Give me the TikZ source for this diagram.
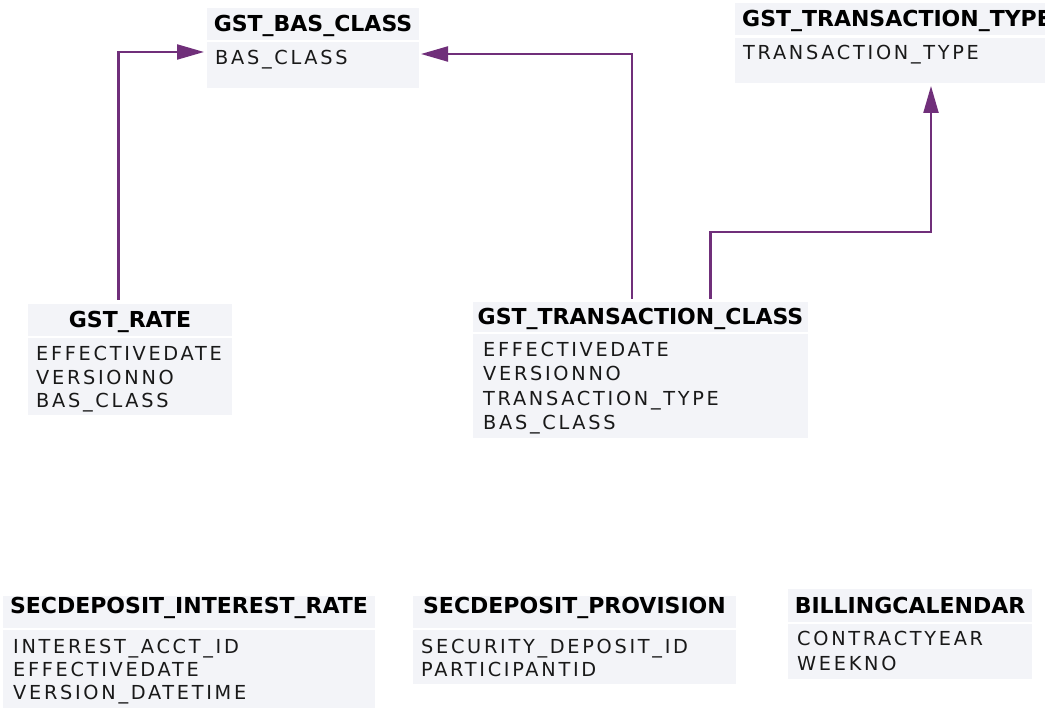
\documentclass[tikz,border=0pt]{standalone}
\usepackage{fontspec}
\setmainfont{DejaVu Sans}
\newfontfamily\bodyfont{DejaVu Sans}[LetterSpace=14]
\usetikzlibrary{arrows.meta}
\definecolor{boxfill}{RGB}{243,244,248}
\definecolor{linkcol}{RGB}{112,47,122}
\tikzset{
  boxbase/.style={draw=none, fill=boxfill, inner sep=0pt, outer sep=0pt, anchor=north west},
  hdrtext/.style={inner sep=0pt, anchor=base, font=\fontsize{22}{24}\selectfont\bfseries},
  hdrtextl/.style={hdrtext, anchor=base west},
  bodytext/.style={inner sep=0pt, anchor=base west, font=\bodyfont\fontsize{19.3}{23}\selectfont, text=black!90},
  link/.style={draw=linkcol, line width=2.2pt, -{Triangle[length=27pt,width=15pt]}}
}
\begin{document}
\begin{tikzpicture}[x=1pt,y=-1pt]
\useasboundingbox (0,0) rectangle (1045,708);
% GST_BAS_CLASS
\node[boxbase, minimum width=212, minimum height=32] (bash) at (207,8) {};
\node[boxbase, minimum width=212, minimum height=46] (basb) at (207,42) {};
\node[hdrtext] (bast) at (313,32) {GST\_BAS\_CLASS};
\node[bodytext] (basf1) at (215,65) {BAS\_CLASS};
% GST_TRANSACTION_TYPE
\node[boxbase, minimum width=310, minimum height=32] (ttypeh) at (735,3) {};
\node[boxbase, minimum width=310, minimum height=45] (ttypeb) at (735,38) {};
\node[hdrtextl] (ttypet) at (742,27) {GST\_TRANSACTION\_TYPE};
\node[bodytext] (ttypef1) at (743,60) {TRANSACTION\_TYPE};
% GST_RATE
\node[boxbase, minimum width=204, minimum height=32] (rateh) at (28,304) {};
\node[boxbase, minimum width=204, minimum height=77] (rateb) at (28,338) {};
\node[hdrtext] (ratet) at (130,328) {GST\_RATE};
\node[bodytext] (ratef1) at (36,361) {EFFECTIVEDATE};
\node[bodytext] (ratef2) at (36,385) {VERSIONNO};
\node[bodytext] (ratef3) at (36,408) {BAS\_CLASS};
% GST_TRANSACTION_CLASS
\node[boxbase, minimum width=335, minimum height=30] (tclassh) at (473,302) {};
\node[boxbase, minimum width=335, minimum height=104] (tclassb) at (473,334) {};
\node[hdrtext] (tclasst) at (640.5,325) {GST\_TRANSACTION\_CLASS};
\node[bodytext] (tclassf1) at (483,357) {EFFECTIVEDATE};
\node[bodytext] (tclassf2) at (483,381) {VERSIONNO};
\node[bodytext] (tclassf3) at (483,406) {TRANSACTION\_TYPE};
\node[bodytext] (tclassf4) at (483,430) {BAS\_CLASS};
% SECDEPOSIT_INTEREST_RATE
\node[boxbase, minimum width=372, minimum height=32] (sdirh) at (3,596) {};
\node[boxbase, minimum width=372, minimum height=78] (sdirb) at (3,630) {};
\node[hdrtext] (sdirt) at (189,613) {SECDEPOSIT\_INTEREST\_RATE};
\node[bodytext] (sdirf1) at (13,653) {INTEREST\_ACCT\_ID};
\node[bodytext] (sdirf2) at (13,676) {EFFECTIVEDATE};
\node[bodytext] (sdirf3) at (13,699) {VERSION\_DATETIME};
% SECDEPOSIT_PROVISION
\node[boxbase, minimum width=323, minimum height=32] (sdph) at (413,596) {};
\node[boxbase, minimum width=323, minimum height=54] (sdpb) at (413,630) {};
\node[hdrtext] (sdpt) at (574.5,613) {SECDEPOSIT\_PROVISION};
\node[bodytext] (sdpf1) at (421,653) {SECURITY\_DEPOSIT\_ID};
\node[bodytext] (sdpf2) at (421,676) {PARTICIPANTID};
% BILLINGCALENDAR
\node[boxbase, minimum width=244, minimum height=33] (billh) at (788,589) {};
\node[boxbase, minimum width=244, minimum height=55] (billb) at (788,624) {};
\node[hdrtext] (billt) at (910,613) {BILLINGCALENDAR};
\node[bodytext] (billf1) at (797,645) {CONTRACTYEAR};
\node[bodytext] (billf2) at (797,670) {WEEKNO};
% connectors
\draw[link] ([xshift=-11.5pt,yshift=4pt]rateh.north) |- ([xshift=-3pt,yshift=13pt]basb.west);
\draw[link] ([xshift=-8.5pt,yshift=3pt]tclassh.north) |- ([xshift=2pt,yshift=11pt]basb.east);
\draw[link] ([xshift=70pt,yshift=3pt]tclassh.north) -- ++(0,-67) -| ([xshift=41pt,yshift=-3pt]ttypeb.south);
\end{tikzpicture}
\end{document}
